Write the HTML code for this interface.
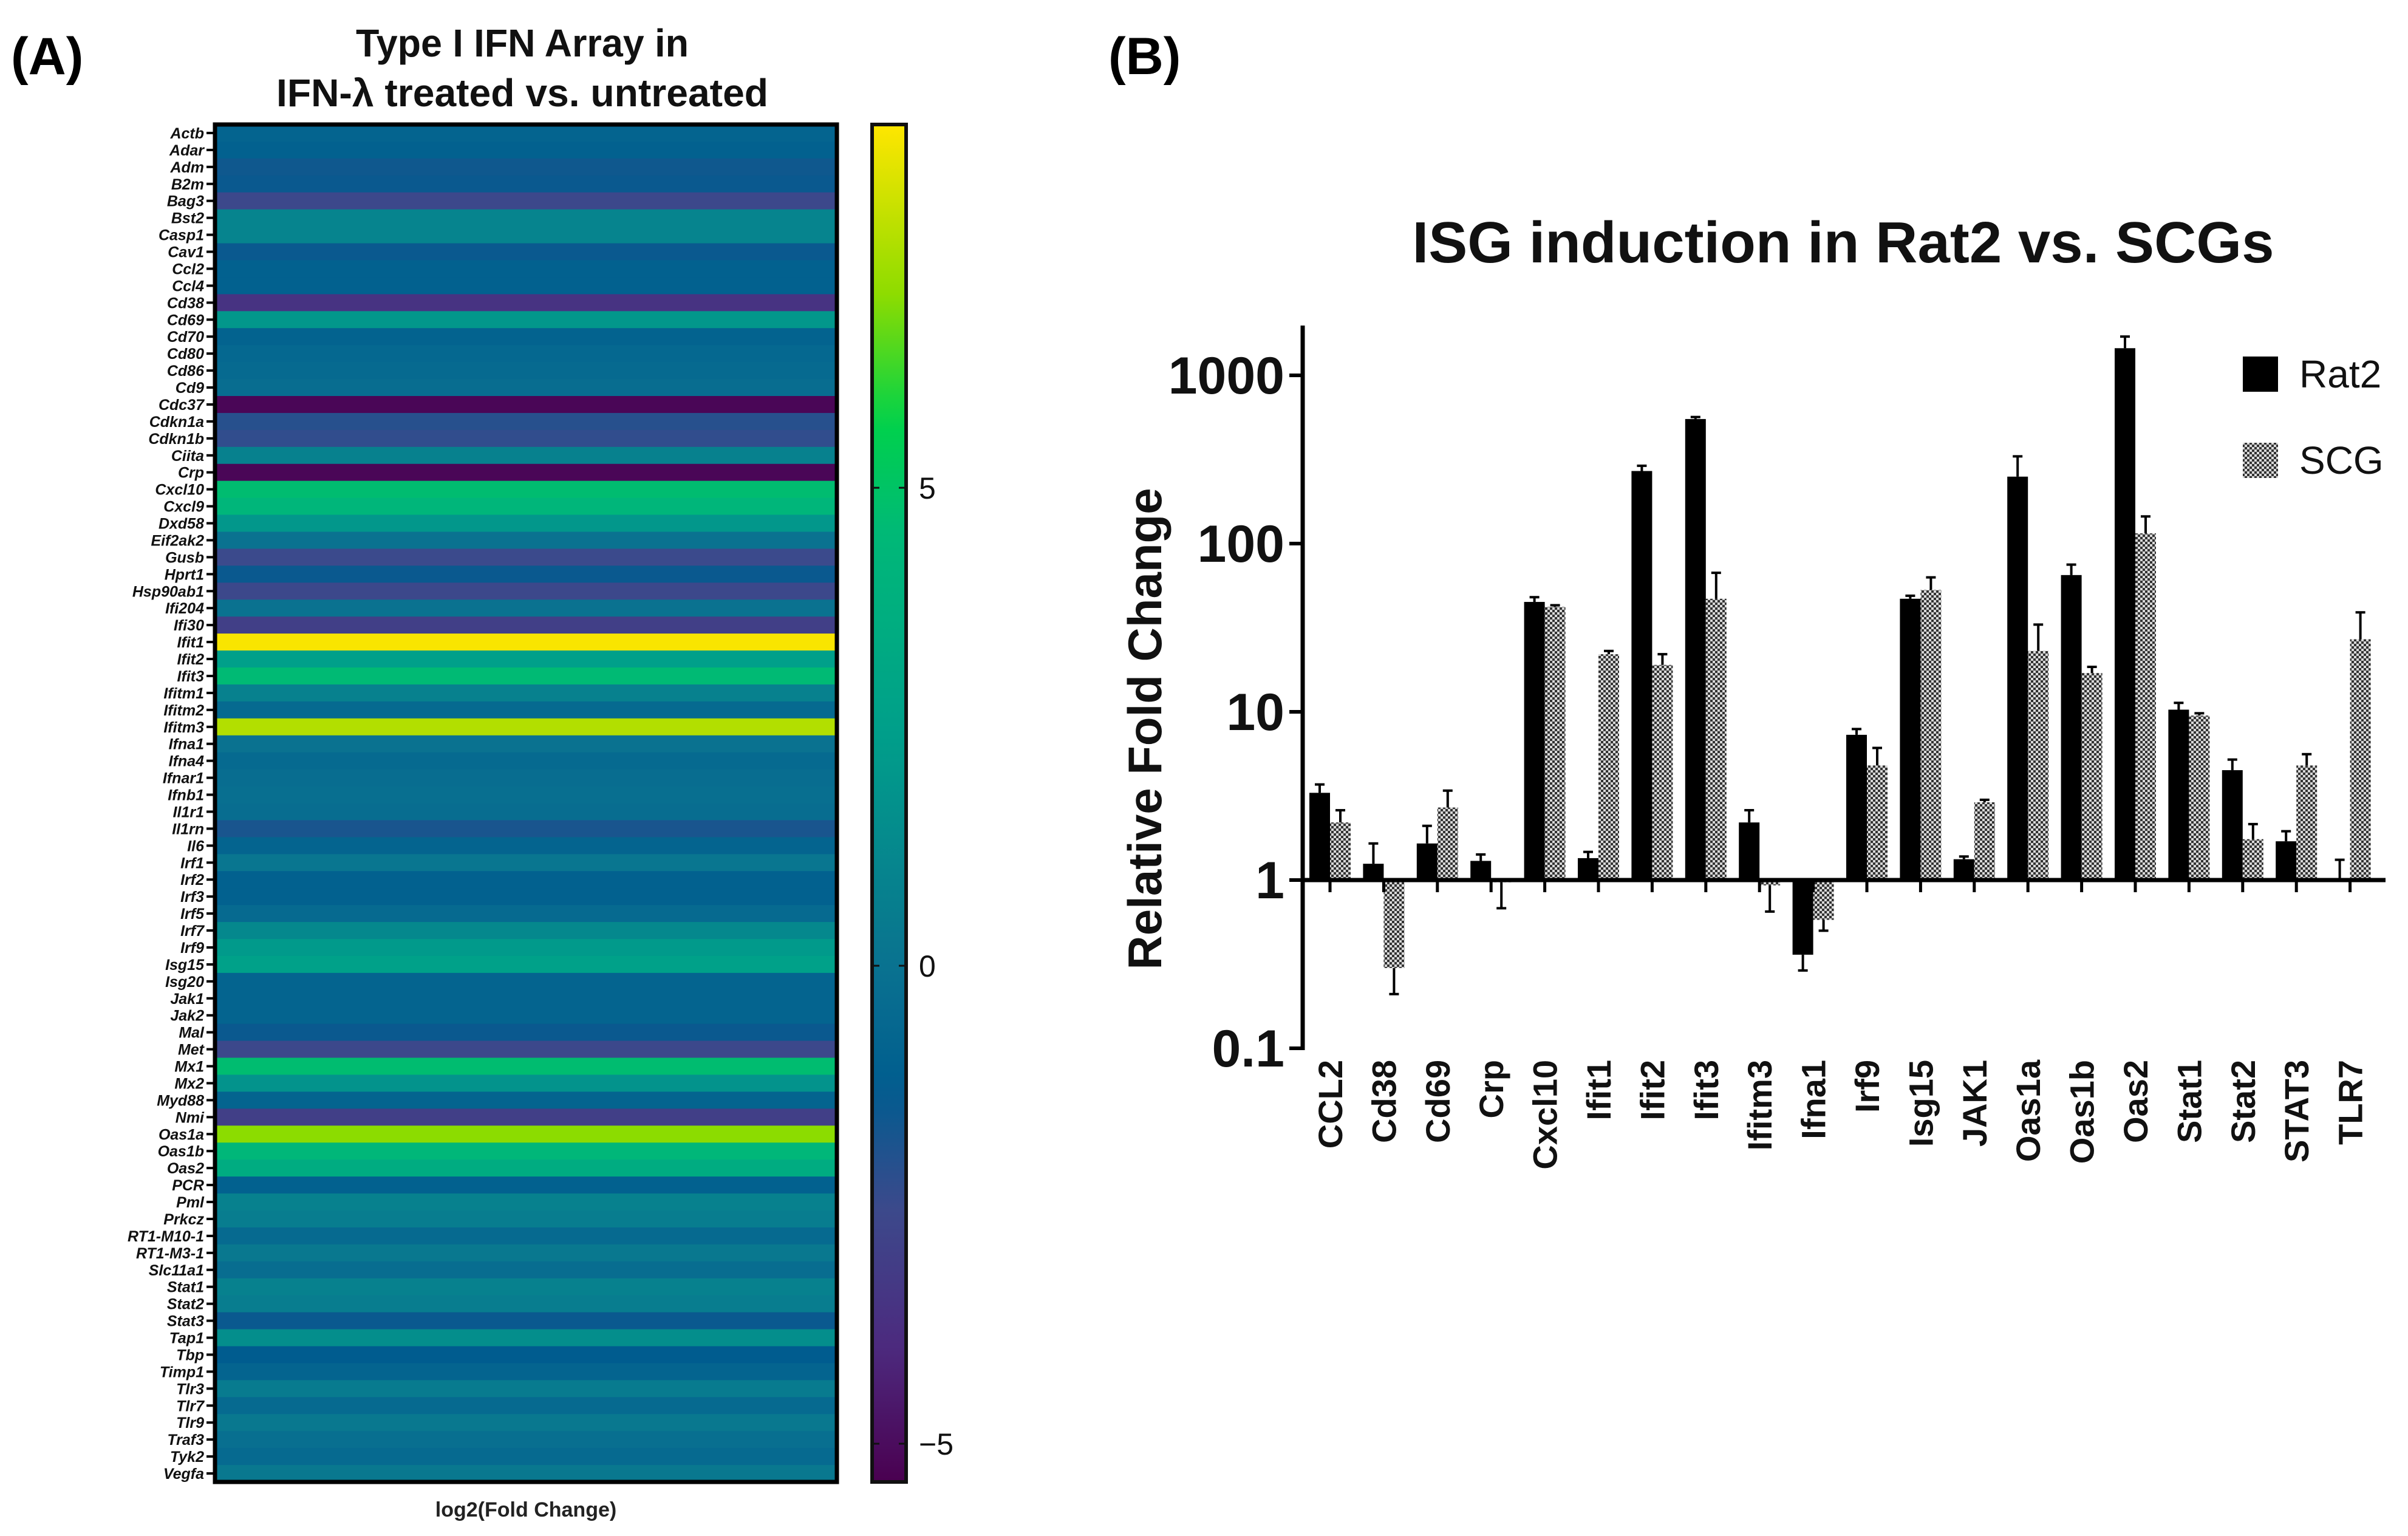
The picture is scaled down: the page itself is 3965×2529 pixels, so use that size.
<!DOCTYPE html>
<html><head><meta charset="utf-8"><style>
html,body{margin:0;padding:0;background:#fff;}
svg{display:block;font-family:"Liberation Sans",sans-serif;}
</style></head><body>
<svg id="fig" width="3965" height="2529" viewBox="0 0 3965 2529" xmlns="http://www.w3.org/2000/svg">
<defs>
<pattern id="checker" width="8" height="8" patternUnits="userSpaceOnUse">
<rect width="8" height="8" fill="#d8d8d8"/><rect width="4" height="4" fill="#333"/><rect x="4" y="4" width="4" height="4" fill="#333"/>
</pattern>
<linearGradient id="cbgrad" x1="0" y1="1" x2="0" y2="0"></linearGradient>
</defs>
<text x="18" y="122" font-size="86" font-weight="bold">(A)</text>
<text x="1825" y="122" font-size="86" font-weight="bold">(B)</text>
<text x="860" y="93" font-size="64" font-weight="bold" text-anchor="middle" textLength="548" lengthAdjust="spacingAndGlyphs" fill="#111">Type I IFN Array in</text>
<text x="860" y="175" font-size="64" font-weight="bold" text-anchor="middle" textLength="810" lengthAdjust="spacingAndGlyphs" fill="#111">IFN-λ treated vs. untreated</text>
<g id="heat"></g>
<g id="cbar"></g>
<text x="866" y="2497" font-size="34" font-weight="bold" text-anchor="middle" fill="#222">log2(Fold Change)</text>
<text x="3035" y="432" font-size="96" font-weight="bold" text-anchor="middle" fill="#111">ISG induction in Rat2 vs. SCGs</text>
<text transform="translate(1912,1200) rotate(-90)" font-size="78" font-weight="bold" text-anchor="middle" fill="#111">Relative Fold Change</text>
<g id="bars"></g>
<g>
<rect x="3693" y="587" width="58" height="58" fill="#000"/>
<text x="3786" y="638" font-size="64" fill="#111">Rat2</text>
<rect x="3693" y="729" width="58" height="58" fill="url(#checker)"/>
<text x="3786" y="780" font-size="64" fill="#111">SCG</text>
</g>
</svg>
<script>
const genes=["Actb","Adar","Adm","B2m","Bag3","Bst2","Casp1","Cav1","Ccl2","Ccl4","Cd38","Cd69","Cd70","Cd80","Cd86","Cd9","Cdc37","Cdkn1a","Cdkn1b","Ciita","Crp","Cxcl10","Cxcl9","Dxd58","Eif2ak2","Gusb","Hprt1","Hsp90ab1","Ifi204","Ifi30","Ifit1","Ifit2","Ifit3","Ifitm1","Ifitm2","Ifitm3","Ifna1","Ifna4","Ifnar1","Ifnb1","Il1r1","Il1rn","Il6","Irf1","Irf2","Irf3","Irf5","Irf7","Irf9","Isg15","Isg20","Jak1","Jak2","Mal","Met","Mx1","Mx2","Myd88","Nmi","Oas1a","Oas1b","Oas2","PCR","Pml","Prkcz","RT1-M10-1","RT1-M3-1","Slc11a1","Stat1","Stat2","Stat3","Tap1","Tbp","Timp1","Tlr3","Tlr7","Tlr9","Traf3","Tyk2","Vegfa"];
const log2fc=[-0.8,-1,-1.6,-1.5,-2.6,1,1,-1.5,-1,-1,-3.6,2,-0.9,-0.6,-0.5,-0.3,-5.2,-2.1,-2.3,0.8,-5.2,4.7,4.3,2,0,-2.5,-1.5,-2.6,0,-3,8.7,2.5,4.6,0.8,-0.5,7.6,0,-0.5,-0.3,-0.2,-0.3,-1.8,-0.8,0.2,-1,-1,-0.5,1.2,2.2,2.6,-0.8,-0.8,-0.8,-1.5,-2.6,4.7,1.8,-0.8,-3,7,4.4,3.5,-1,0.8,0.6,-0.5,0.3,-0.3,0.8,0.6,-1.5,1.5,-1.3,-0.8,0.5,-0.5,0.3,-0.2,-0.5,0.3];
const cbTicks=[5,0,-5];
const cats=["CCL2","Cd38","Cd69","Crp","Cxcl10","Ifit1","Ifit2","Ifit3","Ifitm3","Ifna1","Irf9","Isg15","JAK1","Oas1a","Oas1b","Oas2","Stat1","Stat2","STAT3","TLR7"];
const rat2=[3.3,1.25,1.65,1.3,45,1.35,270,550,2.2,0.36,7.3,47,1.33,250,65,1450,10.3,4.5,1.7,1.02];
const rat2Err=[0.4,0.4,0.45,0.12,3,0.12,20,15,0.4,0.07,0.6,2,0.05,80,10,250,1,0.7,0.25,0.3];
const scg=[2.2,0.3,2.7,0.97,42,22,19,47,0.93,0.58,4.8,53,2.9,23,17,115,9.5,1.75,4.8,27];
const scgErr=[0.4,0.09,0.7,0.29,1,1,3,20,0.28,0.08,1.3,10,0.1,10,1.5,30,0.3,0.4,0.8,12];
const yTicks=[0.1,1,10,100,1000];
const yTickLabels=["0.1","1","10","100","1000"];

const NS="http://www.w3.org/2000/svg";
function mk(tag,attrs,parent){const e=document.createElementNS(NS,tag);for(const k in attrs)e.setAttribute(k,attrs[k]);parent.appendChild(e);return e;}

const cmStops=[[-5.4,"#4a0050"],[-4,"#4c2a7e"],[-2.5,"#3b4a8c"],[-1.3,"#005c8f"],[0,"#0a7290"],[2.5,"#00a08a"],[4.5,"#00b878"],[5.7,"#00d24a"],[7,"#8cdc00"],[8.8,"#ffe600"]];
function hex(h){return [1,3,5].map(i=>parseInt(h.substr(i,2),16));}
function cmap(v){if(v<=cmStops[0][0])return cmStops[0][1];for(let i=1;i<cmStops.length;i++){if(v<=cmStops[i][0]){const a=cmStops[i-1],b=cmStops[i];const t=(v-a[0])/(b[0]-a[0]);const ca=hex(a[1]),cb=hex(b[1]);return "rgb("+ca.map((c,j)=>Math.round(c+(cb[j]-c)*t)).join(",")+")";}}return cmStops[cmStops.length-1][1];}

const heat=document.getElementById('heat');
const hx0=354,hx1=1378,hy0=205,hy1=2440;
const rowH=(hy1-hy0)/genes.length;
function rowY(i){return hy0+i*rowH;}
genes.forEach((g,i)=>{
  const r=mk('rect',{x:hx0,y:rowY(i),width:hx1-hx0,height:rowH+0.6,fill:cmap(log2fc[i])},heat);
  
  
  const t=mk('text',{x:hx0-18,y:rowY(i)+rowH/2+9,'font-size':25,'font-weight':'bold','font-style':'italic','text-anchor':'end',fill:'#111'},heat);
  t.textContent=g;
  
  
  mk('line',{x1:hx0-14,x2:hx0,y1:rowY(i)+rowH/2,y2:rowY(i)+rowH/2,stroke:'#000','stroke-width':4},heat);
});
const hb=mk('rect',{x:hx0,y:hy0,width:hx1-hx0,height:hy1-hy0,fill:'none',stroke:'#000','stroke-width':7},heat);



const cb=document.getElementById('cbar');
const cx0=1436,cx1=1492,cy0=205,cy1=2440,vmin=-5.4,vmax=8.8;
function cbY(v){return cy1-(v-vmin)/(vmax-vmin)*(cy1-cy0);}
const grad=document.getElementById('cbgrad');
for(let k=0;k<=40;k++){const v=vmin+(vmax-vmin)*k/40;mk('stop',{offset:(k/40),'stop-color':cmap(v)},grad);}
const cr=mk('rect',{x:cx0,y:cy0,width:cx1-cx0,height:cy1-cy0,fill:'url(#cbgrad)',stroke:'#111','stroke-width':6},cb);


cbTicks.forEach(v=>{
  const y=cbY(v);
  mk('line',{x1:cx0,x2:cx0+12,y1:y,y2:y,stroke:'#111','stroke-width':3},cb);
  mk('line',{x1:cx1-12,x2:cx1,y1:y,y2:y,stroke:'#111','stroke-width':3},cb);
  const t=mk('text',{x:1513,y:y+18,'font-size':50,fill:'#111'},cb);
  t.textContent=v<0?"\u2212"+Math.abs(v):String(v);
  
  
});

const bars=document.getElementById('bars');
const ax=2145,axTop=536,xEnd=3928;
function yS(v){return 1449-Math.log10(v)*277;}
function xC(i){return 2190+i*88.4;}
const bw=34,base=yS(1);
cats.forEach((c,i)=>{
  const cx=xC(i);
  [[rat2,rat2Err,'#000',-bw,'rat2'],[scg,scgErr,'url(#checker)',0,'scg']].forEach(([vals,errs,fill,off,nm])=>{
    const v=vals[i],e=errs[i];
    const y=yS(v);
    const bx=cx+off;
    const r=mk('rect',{x:bx,y:Math.min(y,base),width:bw,height:Math.abs(base-y),fill:fill},bars);
    
    
    const ye=v>=1?yS(v+e):yS(Math.max(v-e,0.01));
    const mx=bx+bw/2;
    mk('line',{x1:mx,x2:mx,y1:y,y2:ye,stroke:'#000','stroke-width':4},bars);
    mk('line',{x1:mx-8,x2:mx+8,y1:ye,y2:ye,stroke:'#000','stroke-width':4},bars);
  });
  mk('line',{x1:cx,x2:cx,y1:base,y2:base+20,stroke:'#000','stroke-width':5},bars);
  const t=mk('text',{transform:'translate('+(cx+20)+',1745) rotate(-90)','font-size':56,'font-weight':'bold','text-anchor':'end',fill:'#111'},bars);
  t.textContent=c;
  
  
});
const yl=mk('line',{x1:ax,x2:ax,y1:axTop,y2:yS(0.1)+3,stroke:'#000','stroke-width':7},bars);


const xl=mk('line',{x1:ax,x2:xEnd,y1:base,y2:base,stroke:'#000','stroke-width':7},bars);


yTicks.forEach((v,k)=>{
  const y=yS(v);
  mk('line',{x1:ax-22,x2:ax,y1:y,y2:y,stroke:'#000','stroke-width':6},bars);
  const t=mk('text',{x:ax-30,y:y+30,'font-size':86,'font-weight':'bold','text-anchor':'end',fill:'#111'},bars);
  t.textContent=yTickLabels[k];
  
  
});
</script>
</body></html>
